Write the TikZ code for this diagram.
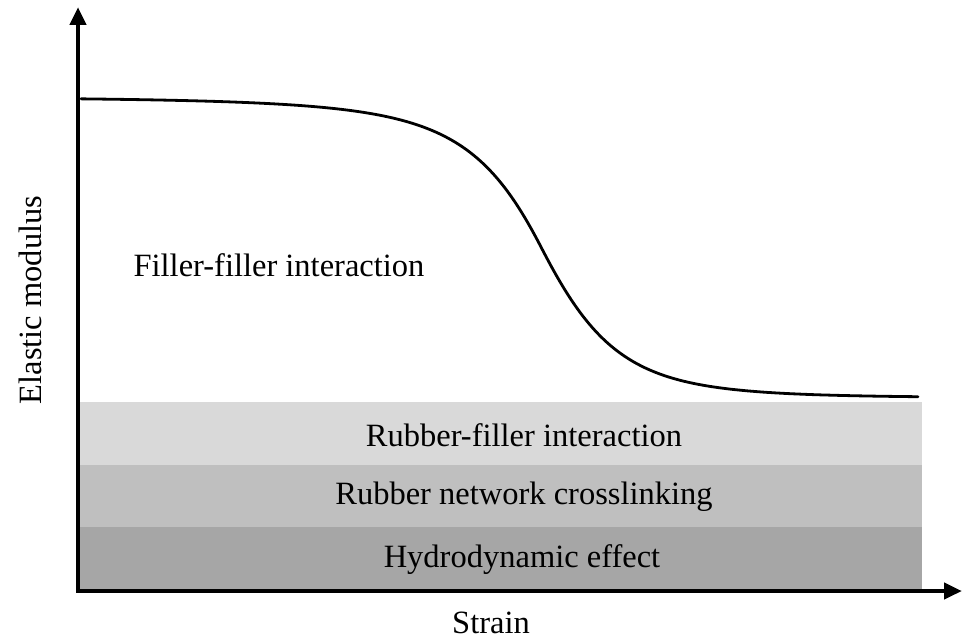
\documentclass[tikz,border=0pt]{standalone}
\usepackage{fontspec}
\setmainfont{Liberation Serif}
\usetikzlibrary{arrows.meta}
\begin{document}
\begin{tikzpicture}[x=1pt,y=-1pt,
  declare function={ww(\t)=(\t<541)*(39+0.13*(541-\t))+(\t>=541)*(39+0.08*(\t-541));
                    yy(\t)=96+302/(1+exp(-(\t-541)/ww(\t)));},
  lbl/.style={font=\fontsize{32.5}{36}\selectfont, inner sep=0pt},
  axis/.style={line width=4.5pt, -{Triangle[length=18pt,width=16pt]}}]
\useasboundingbox (0,0) rectangle (962,639);
\fill[fill={rgb,255:red,217;green,217;blue,217}] (79,402) rectangle (922,465);
\fill[fill={rgb,255:red,191;green,191;blue,191}] (79,465) rectangle (922,527);
\fill[fill={rgb,255:red,166;green,166;blue,166}] (79,527) rectangle (922,591);
\node[lbl] (rf) at (524,435) {Rubber-filler interaction};
\node[lbl] (rn) at (524,497) {Rubber network crosslinking};
\node[lbl] (hd) at (522,560) {Hydrodynamic effect};
\node[lbl] (ff) at (279,265) {Filler-filler interaction};
\coordinate (o) at (78,591);
\coordinate (ytip) at (78,7);
\coordinate (xtip) at (962,591);
\draw[axis] (o) -- (ytip);
\draw[axis] (76,591) -- (xtip);
\node[lbl] (xl) at (491,623) {Strain};
\node[lbl, rotate=90] (yl) at (30,300) {Elastic modulus};
\draw[line width=2.8pt, line cap=round] plot[domain=81:918, samples=240, smooth] (\x,{yy(\x)});
\end{tikzpicture}
\end{document}
